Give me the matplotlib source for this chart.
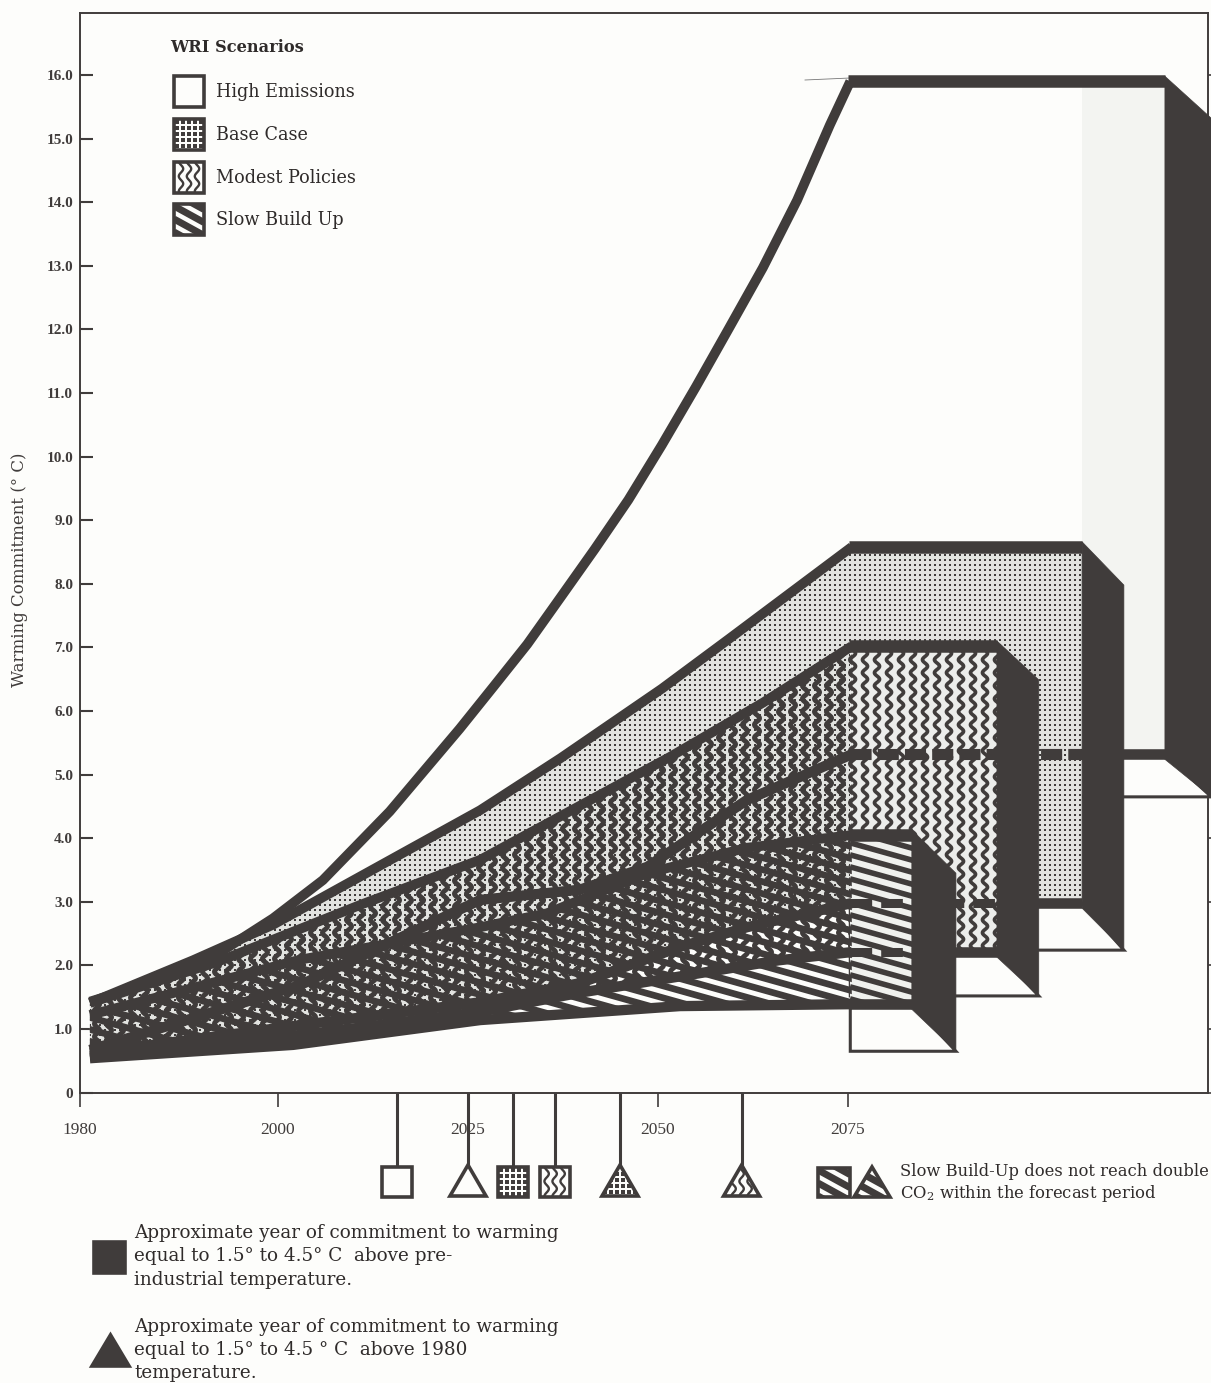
import numpy as np
import matplotlib
matplotlib.use("Agg")
import matplotlib.pyplot as plt
from matplotlib.collections import LineCollection
from matplotlib.patches import Polygon
from matplotlib.ticker import NullLocator
from matplotlib.transforms import Affine2D

# ── Data (years, deg C) ───────────────────────────────────────────────────────
SCENARIOS = ["High Emissions", "Base Case", "Modest Policies", "Slow Build Up"]

high_top_x = [1981.0, 1986.8, 1993.4, 1999.5, 2005.9, 2014.7, 2023.9, 2028.4, 2032.8, 2037.2, 2041.7, 2046.1,
              2050.5, 2055.0, 2059.3, 2063.8, 2068.3, 2072.6, 2075.3, 2116.7]
high_top_y = [1.43, 1.71, 2.13, 2.74, 3.34, 4.42, 5.72, 6.39, 7.05, 7.79, 8.55, 9.32,
              10.18, 11.10, 12.01, 12.97, 14.03, 15.21, 15.90, 15.90]
base_top_x = [1981.0, 1991.4, 1999.5, 2026.6, 2037.2, 2050.5, 2059.3, 2075.5, 2105.8]
base_top_y = [1.41, 2.08, 2.64, 4.44, 5.26, 6.35, 7.13, 8.58, 8.58]
modest_top_x = [1981.0, 1993.8, 2010.8, 2026.6, 2051.6, 2063.8, 2075.5, 2094.6]
modest_top_y = [1.41, 2.05, 2.95, 3.66, 5.28, 6.13, 7.02, 7.02]
slow_top_x = [1981.0, 2002.9, 2026.6, 2035.4, 2048.6, 2061.7, 2075.5, 2083.4]
slow_top_y = [1.22, 2.09, 2.60, 2.82, 3.45, 3.85, 4.05, 4.05]

high_low_x = [1981.0, 2002.9, 2026.6, 2039.7, 2048.6, 2061.7, 2075.5, 2116.7]
high_low_y = [0.67, 1.69, 3.03, 3.19, 3.55, 4.60, 5.32, 5.32]
base_low_x = [1981.0, 2002.9, 2026.6, 2039.7, 2052.9, 2061.7, 2075.5, 2105.8]
base_low_y = [0.62, 1.06, 1.42, 1.72, 2.29, 2.60, 2.98, 2.98]
modest_low_x = [1981.0, 2002.9, 2026.6, 2039.7, 2065.9, 2075.5, 2094.6]
modest_low_y = [0.57, 0.90, 1.27, 1.57, 2.08, 2.21, 2.21]
slow_low_x = [1981.0, 2002.0, 2026.6, 2052.9, 2075.5, 2083.4]
slow_low_y = [0.54, 0.75, 1.14, 1.36, 1.39, 1.39]

side_end = [2122.8, 2111.3, 2100.1, 2089.2]
side_top = [15.32, 7.98, 6.49, 3.45]
floor_val = [4.65, 2.24, 1.52, 0.65]

y_ticks = list(range(17))
y_labels = ["0"] + [f"{v}.0" for v in range(1, 17)]
x_ticks = [1980, 2000, 2025, 2050, 2075]

square_years = [2015.7, 2030.9, 2036.4]
triangle_years = [2025.0, 2045.0, 2061.0]

# the time axis is not linear, first stretch is wider
AXIS_YEARS = [1980, 2000, 2075, 2125]
AXIS_PX = [80, 278, 848, 1228]

DARK = "#403c3b"
INK = "#2f2b2a"
PAPER = "#fdfdfb"
SERIF = "DejaVu Serif"
NUM = "Liberation Serif"
W, H = 1211, 1383


def year_to_px(v):
    return np.interp(v, AXIS_YEARS, AXIS_PX)


def px_to_year(v):
    return np.interp(v, AXIS_PX, AXIS_YEARS)


# ── Axes ──────────────────────────────────────────────────────────────────────
fig = plt.figure(figsize=(W / 100, H / 100), dpi=100, facecolor=PAPER)
ax = fig.add_axes([80 / W, (H - 1092.6) / H, 1128 / W, 1079.6 / H], facecolor=PAPER)
ax.set_xscale("function", functions=(year_to_px, px_to_year))
ax.set_xlim(1980, px_to_year(1208))
ax.set_ylim(0, 1079.6 / 63.6)
pix = Affine2D().scale(1, -1).translate(0, H)

ax.set_yticks(y_ticks, y_labels, fontsize=11, family=NUM, color=DARK, weight="bold")
ax.set_xticks(x_ticks, [str(v) for v in x_ticks], fontsize=12.5, family=NUM, color=DARK)
ax.xaxis.set_minor_locator(NullLocator())
ax.tick_params(axis="y", direction="in", length=9, width=1.5, color=DARK, pad=5)
ax.tick_params(axis="x", direction="out", length=10, width=1.2, color=DARK, pad=11)
for s in ax.spines.values():
    s.set_color(DARK)
    s.set_linewidth(1.4)
sec = ax.secondary_yaxis("right")
sec.set_yticks(y_ticks)
sec.tick_params(direction="out", length=9, width=1.2, color=DARK, labelright=False)
sec.spines["right"].set_visible(False)
ax.text(20, 570, "Warming Commitment (° C)", transform=pix, rotation=90, ha="center", va="center",
        fontsize=12, family=SERIF, color=DARK, clip_on=False)


# ── Fill textures (pixel space, clipped to the shape they belong to) ──────────
def clip_to(art, clip):
    art.set_clip_path(clip)
    art.set_clip_box(None)


def dots(clip, x0, x1, y0, y1, step=5, size=4.6, z=3):
    gx, gy = np.meshgrid(np.arange(x0, x1, step), np.arange(y0, y1, step))
    sc = ax.scatter(gx.ravel(), gy.ravel(), s=size, marker="s", color=DARK, linewidths=0, transform=pix, zorder=z)
    clip_to(sc, clip)


def waves(clip, x0, x1, y0, y1, step=12, amp=2.6, period=13, lw=2.6, z=3):
    yy = np.arange(y0, y1, 1.0)
    segs = [np.column_stack([x + amp * np.sin(yy * 2 * np.pi / period), yy]) for x in np.arange(x0, x1, step)]
    lc = LineCollection(segs, colors=DARK, linewidths=lw, transform=pix, zorder=z)
    ax.add_collection(lc, autolim=False)
    clip_to(lc, clip)


def stripes(clip, x0, x1, y0, y1, step=12, slope=0.28, lw=4.0, z=3):
    width = x1 - x0
    segs = [[(x0, y), (x1, y + slope * width)] for y in np.arange(y0 - slope * width, y1, step)]
    lc = LineCollection(segs, colors=DARK, linewidths=lw, transform=pix, zorder=z)
    ax.add_collection(lc, autolim=False)
    clip_to(lc, clip)


def band(xs, ys, lw=7.0):
    ax.plot(xs, ys, color=DARK, lw=lw, solid_joinstyle="miter", solid_capstyle="butt", zorder=3, clip_on=False)


tops = [(high_top_x, high_top_y), (base_top_x, base_top_y), (modest_top_x, modest_top_y), (slow_top_x, slow_top_y)]
lows = [(high_low_x, high_low_y), (base_low_x, base_low_y), (modest_low_x, modest_low_y), (slow_low_x, slow_low_y)]
panel_fill = [PAPER, "#e2e3e0", "#ecedeb", "#f0f1ee"]
wedge_fill = ["none", "#e2e3e0", "none", "none"]

# ── Floors, wedges and front panels, back to front ────────────────────────────
for i in range(4):
    tx, ty = tops[i]
    lx, ly = lows[i]
    end = tx[-1]
    start = 2075.3

    ax.add_patch(Polygon([(start, ly[-1]), (end, ly[-1]), (side_end[i], floor_val[i]), (start, floor_val[i])],
                         closed=True, fc=PAPER, ec=DARK, lw=2.2, zorder=3, clip_on=False))
    panel = Polygon([(start, ty[-1]), (end, ty[-1]), (end, ly[-1]), (start, ly[-1])],
                    closed=True, fc=panel_fill[i], ec="none", zorder=3, clip_on=False)
    ax.add_patch(panel)

    wedge = Polygon(list(zip(tx[:-1], ty[:-1])) + list(zip(lx[-2::-1], ly[-2::-1])), closed=True,
                    fc=wedge_fill[i], ec="none", zorder=3)
    ax.add_patch(wedge)
    if i == 0:
        # strip of the high box that shows past the base case is a bit greyer on the scan
        ax.add_patch(Polygon([(base_top_x[-1], ty[-1]), (end, ty[-1]), (end, ly[-1]), (base_top_x[-1], ly[-1])],
                             closed=True, fc="#f3f4f1", ec="none", zorder=3))
    elif i == 1:
        dots(wedge, 85, 860, 540, 1070)
        dots(panel, 850, 1090, 540, 950)
    elif i == 2:
        waves(wedge, 85, 860, 635, 1070, lw=3.5)
        waves(panel, 853, 1000, 635, 960)
    elif i == 3:
        stripes(wedge, 85, 860, 825, 1070, lw=4.8)
        stripes(panel, 850, 915, 825, 1010)

    # bottom bar of this box, hidden later by the boxes in front
    ax.plot([start, end], [ly[-1], ly[-1]], color=DARK, lw=7.6, solid_capstyle="butt", zorder=3)

# lower bars show through the boxes in front as broken lines
ax.plot([2075.3, 2105.8], [high_low_y[-1]] * 2, color=DARK, lw=8, dashes=(1.9, 0.55), zorder=3)
ax.plot([2075.3, 2094.6], [base_low_y[-1]] * 2, color=DARK, lw=6.5, dashes=(2.4, 1.0), zorder=3)
ax.plot([2075.3, 2083.4], [modest_low_y[-1]] * 2, color=DARK, lw=6.5, dashes=(2.4, 1.0), zorder=3)

# ── Sides and outlines on top ─────────────────────────────────────────────────
for i in range(4):
    tx, ty = tops[i]
    lx, ly = lows[i]
    end = tx[-1]
    ax.add_patch(Polygon([(end, ty[-1] + 0.08), (side_end[i], side_top[i]), (side_end[i], floor_val[i]), (end, ly[-1] - 0.08)],
                         closed=True, fc=DARK, ec=DARK, lw=0.5, zorder=3, clip_on=False))
    band(tx[:-1], ty[:-1])
    band([tx[-2] - 0.35, tx[-1]], ty[-2:], lw=9.0)
    band(lx[:-1], ly[:-1], lw=7.4)

ax.plot([805, 850], [80, 78], color="#777777", lw=0.6, transform=pix, zorder=2, clip_on=False)


# ── Legend swatches and commitment symbols ────────────────────────────────────
def symbol(kind, shape, x0, y0, x1, y1):
    if shape == "square":
        pts = [(x0, y0), (x1, y0), (x1, y1), (x0, y1)]
    else:
        pts = [((x0 + x1) / 2, y0), (x1, y1), (x0, y1)]
    fc = DARK if kind == "solid" else PAPER
    clip = Polygon(pts, closed=True, fc=fc, ec="none", transform=pix, zorder=4, clip_on=False)
    ax.add_patch(clip)
    if kind == "dots":
        gx, gy = np.meshgrid(np.arange(x0 + 3, x1, 6), np.arange(y0 + 3, y1, 6))
        sc = ax.scatter(gx.ravel(), gy.ravel(), s=8, marker="s", color=DARK, linewidths=0, transform=pix, zorder=4)
        clip_to(sc, clip)
    elif kind == "waves":
        yy = np.arange(y0, y1, 0.5)
        segs = [np.column_stack([x + 2.2 * np.sin(yy * 2 * np.pi / 15), yy])
                for x in ((x0 + x1) / 2 - 8, (x0 + x1) / 2, (x0 + x1) / 2 + 8)]
        lc = LineCollection(segs, colors=DARK, linewidths=1.7, transform=pix, zorder=4)
        ax.add_collection(lc, autolim=False)
        clip_to(lc, clip)
    elif kind == "stripes":
        segs = [[(x0, y), (x1, y + 0.55 * (x1 - x0))] for y in np.arange(y0 - 24, y1, 13)]
        lc = LineCollection(segs, colors=DARK, linewidths=5.0, transform=pix, zorder=4)
        ax.add_collection(lc, autolim=False)
        clip_to(lc, clip)
    ax.add_patch(Polygon(pts, closed=True, fc="none", ec=DARK, lw=2.6, joinstyle="miter", transform=pix,
                         zorder=4, clip_on=False))


kinds = ["empty", "dots", "waves", "stripes"]
legend_tops = [76, 119, 162, 204]
ax.text(170, 48, "WRI Scenarios", transform=pix, va="center", fontsize=11.7, family=SERIF, weight="bold", color=INK)
for name, kind, top in zip(SCENARIOS, kinds, legend_tops):
    symbol(kind, "square", 174, top, 204, top + 31)
    ax.text(216, top + 16, name, transform=pix, va="center", fontsize=12.7, family=SERIF, color=INK)

# stems go from the axis down to the symbols, under the year labels
stem_years = sorted(square_years + triangle_years)
ax.vlines(stem_years, -1.17, 0, color=DARK, lw=2.2, zorder=2, clip_on=False)
ax.get_xticklabels()[2].set_bbox(dict(fc=PAPER, ec="none", pad=3))

for yr, kind in zip(square_years, ["empty", "dots", "waves"]):
    cx = float(year_to_px(yr))
    symbol(kind, "square", cx - 15, 1167, cx + 15, 1197)
for yr, kind in zip(triangle_years, ["empty", "dots", "waves"]):
    cx = float(year_to_px(yr))
    symbol(kind, "triangle", cx - 18, 1165, cx + 18, 1196)
symbol("stripes", "square", 818, 1168, 850, 1197)
symbol("stripes", "triangle", 854, 1167, 890, 1197)

ax.text(900, 1171, "Slow Build-Up does not reach double", transform=pix, va="center", fontsize=11.8, family=SERIF, color=INK)
ax.text(900, 1193, r"CO$_2$ within the forecast period", transform=pix, va="center", fontsize=11.8, family=SERIF,
        color=INK, math_fontfamily="dejavuserif")

# ── Notes under the chart ─────────────────────────────────────────────────────
symbol("solid", "square", 94, 1242, 125, 1273)
symbol("solid", "triangle", 92, 1335, 129, 1366)
notes = [
    (1233, "Approximate year of commitment to warming"),
    (1256, "equal to 1.5° to 4.5° C  above pre-"),
    (1280, "industrial temperature."),
    (1327, "Approximate year of commitment to warming"),
    (1350, "equal to 1.5° to 4.5 ° C  above 1980"),
    (1373, "temperature."),
]
for y, line in notes:
    ax.text(134, y, line, transform=pix, va="center", fontsize=13.2, family=SERIF, color=INK)

fig.savefig("out.png", dpi=100, facecolor=PAPER)
